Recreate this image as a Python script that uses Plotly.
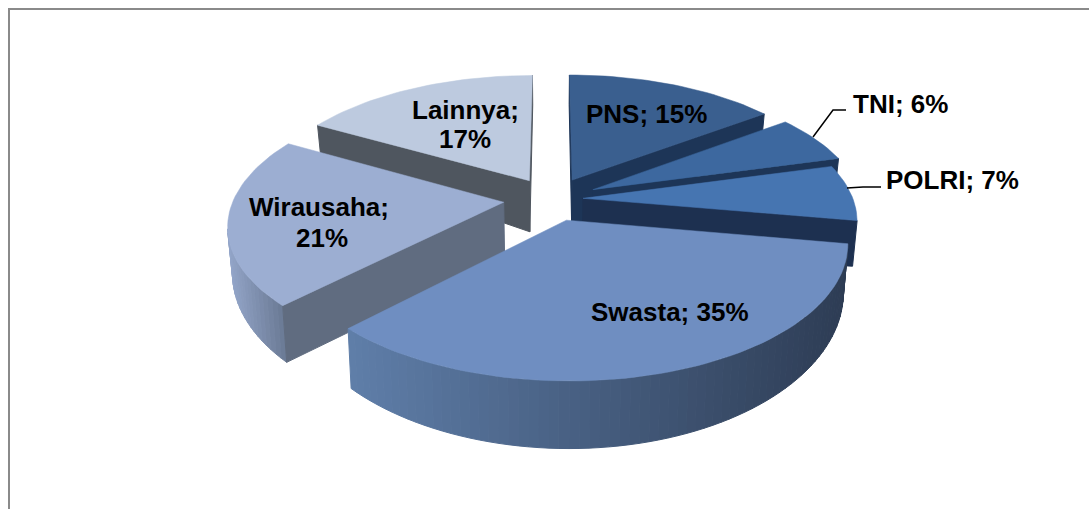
import numpy as np
import plotly.graph_objects as go

# ---- data ----
categories = ["PNS", "TNI", "POLRI", "Swasta", "Wirausaha", "Lainnya"]
values = [15, 6, 7, 35, 21, 17]
label_text = ["PNS; 15%", "TNI; 6%", "POLRI; 7%", "Swasta; 35%", "Wirausaha;", "21%", "Lainnya;", "17%"]
label_xy = [(646, 114), (900, 104), (952, 180), (670, 312), (319, 207), (322, 238), (465, 110), (465, 139)]

top_colors = ["#3a5f8f", "#3d689f", "#4675b1", "#6f8ec1", "#9caed2", "#bdcadf"]
rad_colors = ["#1d3557", "#1d3557", "#1d3050", "#1d3050", "#606c80", "#4f565f"]
wall_left = ["#3a5f8f", "#2f5076", "#2a4568", "#5f7ea9", "#93a5c8", "#bdcadf"]
wall_right = ["#2a4568", "#243c5c", "#1d3050", "#2d3c54", "#66758f", "#bdcadf"]
explode = [0.17, 0.17, 0.115, 0.17, 0.18, 0.17]

# ---- projection of the tilted disk ----
CX, CY = 552.0, 199.0
RX, RY = 270.0, 127.5
PERSP = 0.16
DEPTH = 43.0
APEX_Z = 1.25
total = sum(values)
VIEW_Y = -1 / PERSP


def project(x, y, z=0.0):
    w = 1 + PERSP * y
    return (CX + RX * x / w * (1 - 0.015 * z),
            CY - RY * y / w + DEPTH * z / w ** 2.2)


def mix(a, b, t):
    ca = [int(a[i:i + 2], 16) for i in (1, 3, 5)]
    cb = [int(b[i:i + 2], 16) for i in (1, 3, 5)]
    return "rgb(%d,%d,%d)" % tuple(round(p + (q - p) * t) for p, q in zip(ca, cb))


fig = go.Figure()


def poly(pts, color, lw=1.0):
    xs = [p[0] for p in pts] + [pts[0][0]]
    ys = [p[1] for p in pts] + [pts[0][1]]
    fig.add_trace(go.Scatter(x=xs, y=ys, mode="lines", fill="toself", fillcolor=color,
                             line=dict(color=color, width=lw), hoverinfo="skip", showlegend=False))


starts = np.cumsum([0] + values[:-1]) / total
ends = np.cumsum(values) / total

# back-to-front drawing order
order = [5, 0, 1, 2, 4, 3]
for i in order:
    a0, a1 = 2 * np.pi * starts[i], 2 * np.pi * ends[i]
    mid = (a0 + a1) / 2
    ox, oy = explode[i] * np.sin(mid), explode[i] * np.cos(mid)
    th = np.linspace(a0, a1, max(int(values[i] * 2), 6) + 1)
    px = ox + np.sin(th)
    py = oy + np.cos(th)

    # radial walls that face the viewer
    walls = []
    for a, nx, ny in ((a0, -np.cos(a0), np.sin(a0)), (a1, np.cos(a1), -np.sin(a1))):
        ex, ey = ox + np.sin(a), oy + np.cos(a)
        if nx * (0 - ex) + ny * (VIEW_Y - ey) > 0:
            walls.append((ex, ey))
    # outer wall, graded by screen position
    n = len(th) - 1
    xa = [project(p, q)[0] for p, q in zip(px, py)]
    xmin, xmax = min(xa), max(xa)
    for k in range(n):
        tm = (th[k] + th[k + 1]) / 2
        mx, my = ox + np.sin(tm), oy + np.cos(tm)
        if np.sin(tm) * (0 - mx) + np.cos(tm) * (VIEW_Y - my) <= 0:
            continue
        t = ((xa[k] + xa[k + 1]) / 2 - xmin) / max(xmax - xmin, 1)
        poly([project(px[k], py[k]), project(px[k + 1], py[k + 1]),
              project(px[k + 1], py[k + 1], 1), project(px[k], py[k], 1)],
             mix(wall_left[i], wall_right[i], t))
    for ex, ey in walls:
        poly([project(ox, oy), project(ex, ey), project(ex, ey, 1), project(ox, oy, APEX_Z)], rad_colors[i])
    # top face
    pts = [project(ox, oy)] + [project(a, b) for a, b in zip(px, py)]
    poly(pts, top_colors[i], 0.5)

# leader lines
fig.add_trace(go.Scatter(x=[813, 833, 846], y=[137, 110, 110], mode="lines",
                         line=dict(color="black", width=1.5), hoverinfo="skip", showlegend=False))
fig.add_trace(go.Scatter(x=[847, 863, 881], y=[188, 187, 187], mode="lines",
                         line=dict(color="black", width=1.5), hoverinfo="skip", showlegend=False))

for text, (lx, ly) in zip(label_text, label_xy):
    fig.add_annotation(x=lx, y=ly, text="<b>" + text + "</b>", showarrow=False, xanchor="center", yanchor="middle",
                       align="center", font=dict(family="Liberation Sans", size=26, color="black"))

fig.update_layout(
    width=1089, height=509, autosize=False,
    margin=dict(l=0, r=0, t=0, b=0),
    paper_bgcolor="white", plot_bgcolor="white",
    xaxis=dict(range=[0, 1089], visible=False, fixedrange=True),
    yaxis=dict(range=[509, 0], visible=False, fixedrange=True),
    shapes=[dict(type="rect", x0=9, y0=9, x1=1200, y1=600, line=dict(color="#8a8a8a", width=2), layer="below")],
)
fig.write_html("out.html", config={"displayModeBar": False},
               post_script="document.body.style.margin='0';document.documentElement.style.overflow='hidden';")
